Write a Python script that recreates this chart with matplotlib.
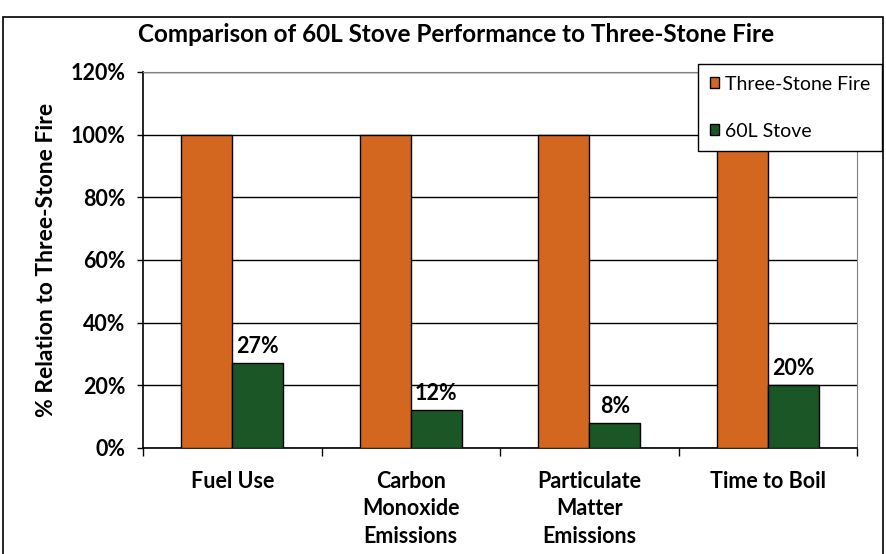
import matplotlib
matplotlib.use("Agg")
import matplotlib.pyplot as plt
from matplotlib.patches import Rectangle
import numpy as np

categories = ["Fuel Use", "Carbon\nMonoxide\nEmissions", "Particulate\nMatter\nEmissions", "Time to Boil"]
three_stone = [100, 100, 100, 100]
stove_60l = [27, 12, 8, 20]
series_names = ["Three-Stone Fire", "60L Stove"]
ytick_vals = [0, 20, 40, 60, 80, 100, 120]

orange = "#D4671F"
green = "#1B5726"

plt.rcParams["font.family"] = ["Lato", "DejaVu Sans"]

fig = plt.figure(figsize=(8.86, 5.54), dpi=100)
ax = fig.add_axes([143 / 886, 1 - 448 / 554, (857 - 143) / 886, (448 - 72) / 554])

x = np.arange(len(categories))
w = 0.286
ax.bar(x - w / 2, three_stone, w, color=orange, edgecolor="black", linewidth=1, label=series_names[0], zorder=3)
ax.bar(x + w / 2, stove_60l, w, color=green, edgecolor="black", linewidth=1, label=series_names[1], zorder=3)

# value labels over the 60L stove bars
for xi, v in zip(x, stove_60l):
    ax.text(xi + w / 2, v + 3.2, f"{v}%", ha="center", va="baseline", fontsize=15.5, fontweight="bold")

ax.set_xlim(-0.5, len(categories) - 0.5)
ax.set_ylim(0, 120)
ax.set_yticks(ytick_vals)
ax.set_yticklabels([f"{v}%" for v in ytick_vals], fontsize=15.5, fontweight="bold")
ax.set_xticks(x)
ax.set_xticklabels(categories, fontsize=15.5, fontweight="bold", linespacing=1.38, va="top")
ax.set_xticks(np.arange(-0.5, len(categories)), minor=True)
ax.tick_params(axis="x", which="major", length=0, pad=16.5)
ax.tick_params(axis="x", which="minor", length=6, width=1, color="black")
ax.tick_params(axis="y", length=4.5, width=1, pad=8)

ax.yaxis.grid(True, color="black", linewidth=1, zorder=0)
ax.set_axisbelow(True)
for s in ["top", "right"]:
    ax.spines[s].set_color("#808080")
for s in ["left", "bottom"]:
    ax.spines[s].set_color("black")
    ax.spines[s].set_linewidth(1.2)

ax.set_ylabel("% Relation to Three-Stone Fire", fontsize=16.5, fontweight="bold", labelpad=10)

fig.text(456 / 886, 1 - 35 / 554, "Comparison of 60L Stove Performance to Three-Stone Fire",
         ha="center", va="center", fontsize=17.5, fontweight="bold")

leg = ax.legend(loc="upper left", bbox_to_anchor=(698 / 886, 1 - 64 / 554), bbox_transform=fig.transFigure,
                frameon=True, fancybox=False, edgecolor="black", fontsize=14,
                handlelength=0.5, handleheight=0.5, handletextpad=0.3, labelspacing=1.55,
                borderpad=0.6, borderaxespad=0, framealpha=1)
leg.get_frame().set_linewidth(1)

fig.patches.append(Rectangle((3 / 886, -0.05), 880 / 886, 1.05 - 17 / 554, transform=fig.transFigure,
                             fill=False, edgecolor="black", linewidth=1.2))

fig.savefig("out.png", dpi=100)
